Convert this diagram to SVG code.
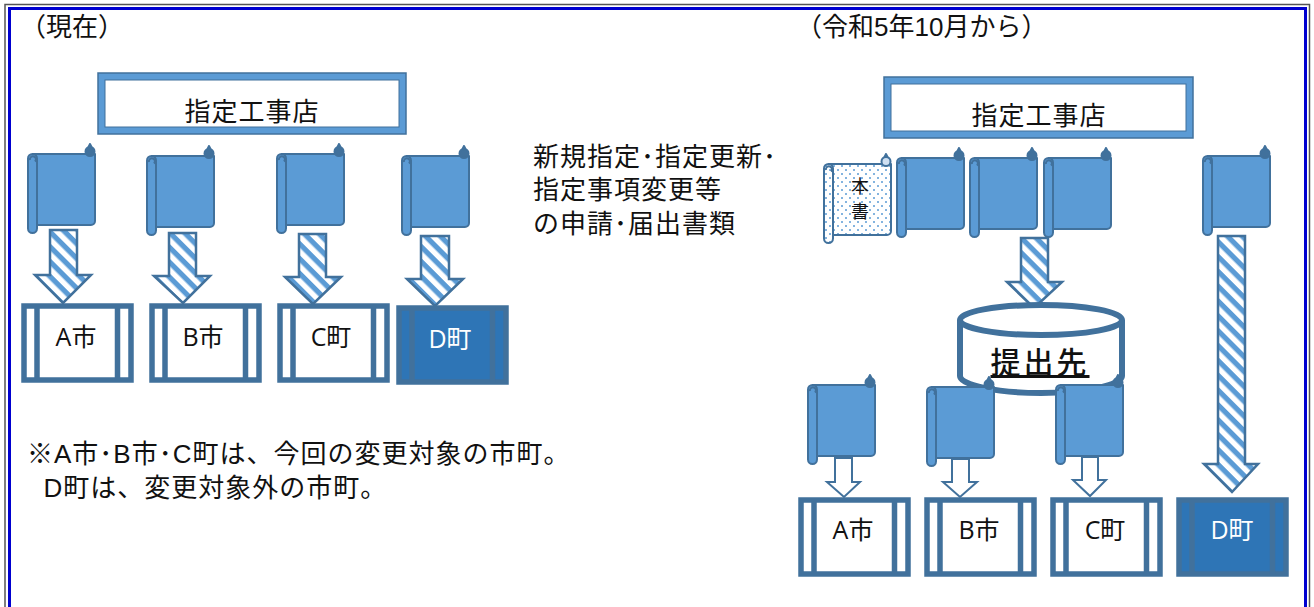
<svg xmlns="http://www.w3.org/2000/svg" width="1314" height="607" viewBox="0 0 1314 607">
<style>
text{font-family:"Liberation Sans","Noto Sans CJK JP",sans-serif;fill:#111}
.t{font-size:26px;letter-spacing:1px}
.n{font-family:"Open Sans","Noto Sans CJK JP",sans-serif;font-size:25px;text-anchor:middle}
.h{font-family:"Noto Sans CJK JP",sans-serif;font-size:26px;letter-spacing:1px;text-anchor:middle}
.box{fill:#5b9bd5;stroke:#41719c;stroke-width:1.5}
.inner{fill:#fff;stroke:#41719c;stroke-width:1}
.c{fill:#fff;stroke:#41719c;stroke-width:5.5}
.s{fill:#5b9bd5;stroke:#41719c;stroke-width:2;stroke-linejoin:round;--k:#41719c}
.d{fill:url(#dots);--k:#cfe0f2}
.a{fill:url(#stripes);stroke:#41719c;stroke-width:2.5;stroke-linejoin:miter}
.w{fill:#fff;stroke:#41719c;stroke-width:2}
.frame{fill:none}
</style>
<defs>
<pattern id="stripes" patternUnits="userSpaceOnUse" width="10.5" height="10.5" patternTransform="rotate(45)"><rect width="10.5" height="10.5" fill="#fff"/><rect width="10.5" height="5.2" fill="#5b9bd5"/></pattern>
<pattern id="dots" patternUnits="userSpaceOnUse" width="8" height="8"><rect width="8" height="8" fill="#fff"/><circle cx="2" cy="2" r="1" fill="#5b9bd5"/><circle cx="6" cy="6" r="1" fill="#5b9bd5"/></pattern>
<g id="scroll">
<path d="M5 0H67V67a4 4 0 0 1-4 4H9V8z"/>
<rect x="0" y="0" width="9" height="79" rx="4.500"/>
<path d="M2 6a3 3 0 1 1 5 1.500" fill="none"/>
<path d="M62 -10L60 -6H64Z"/>
<circle cx="62" cy="-2.500" r="4.500" style="fill:var(--k)"/>
</g>
<g id="city">
<rect x="3" y="3" width="107" height="74"/>
<path d="M16 3V77M96.500 3V77" fill="none"/>
</g>
</defs>
<rect width="1314" height="607" fill="#fff"/>
<g id="frame" class="frame">
<rect x="5" y="4.500" width="1304.500" height="610" stroke="#555" stroke-width="1.500"/>
<rect x="9.500" y="8.500" width="1296" height="610" stroke="#0000d0" stroke-width="3"/>
</g>
<g id="connectors">
<path class="a" d="M50 230H77V275H91L63 303L35 275H50Z"/>
<path class="a" d="M169 233H196V276H210L183 303L154 276H169Z"/>
<path class="a" d="M299 234H326V277H341L313 304L285 277H299Z"/>
<path class="a" d="M421 236H449V279H463L435 306L407 279H421Z"/>
<path class="a" d="M1021 238H1048V282H1062L1034 308L1007 282H1021Z"/>
<path class="a" d="M1218 236H1245V464H1258L1232 492L1204 464H1218Z"/>
<path class="w" d="M835 458H852V482H860L844 497L827 482H835Z"/>
<path class="w" d="M952 459H969V482H977L960 497L943 482H952Z"/>
<path class="w" d="M1082 457H1098V480H1106L1090 496L1073 480H1082Z"/>
</g>
<g id="label-current"><text x="20" y="36" font-size="26" style="font-family:'Noto Sans CJK JP',sans-serif">（現在）</text></g>
<g id="label-future"><text x="796" y="36" font-size="26">（令和5年10月から）</text></g>
<g id="contractor-left"><rect class="box" x="98" y="73" width="308" height="61"/><rect class="inner" x="105" y="80" width="294" height="47"/><text class="h" x="252" y="121">指定工事店</text></g>
<g id="contractor-right"><rect class="box" x="884" y="77" width="309" height="61"/><rect class="inner" x="891" y="84" width="295" height="47"/><text class="h" x="1039" y="125">指定工事店</text></g>
<g id="scroll-l1"><use href="#scroll" class="s" x="28" y="154"/></g>
<g id="scroll-l2"><use href="#scroll" class="s" x="147" y="156"/></g>
<g id="scroll-l3"><use href="#scroll" class="s" x="277" y="154"/></g>
<g id="scroll-l4"><use href="#scroll" class="s" x="402" y="156"/></g>
<g id="scroll-original"><use href="#scroll" class="s d" x="824" y="164"/><text x="860" y="193" font-size="18" text-anchor="middle">本</text><text x="860" y="218" font-size="18" text-anchor="middle">書</text></g>
<g id="scroll-r1"><use href="#scroll" class="s" x="897" y="158"/></g>
<g id="scroll-r2"><use href="#scroll" class="s" x="970" y="158"/></g>
<g id="scroll-r3"><use href="#scroll" class="s" x="1044" y="158"/></g>
<g id="scroll-r4"><use href="#scroll" class="s" x="1203" y="156"/></g>
<g id="city-a-left"><use href="#city" class="c" x="21" y="303"/><text class="n" x="76" y="346">A市</text></g>
<g id="city-b-left"><use href="#city" class="c" x="149" y="303"/><text class="n" x="203" y="346">B市</text></g>
<g id="city-c-left"><use href="#city" class="c" x="277" y="303"/><text class="n" x="331" y="346">C町</text></g>
<g id="city-d-left"><use href="#city" class="c" x="396" y="305" style="fill:#2e75b6"/><text class="n" x="450" y="348" style="fill:#fff">D町</text></g>
<g id="submission"><path d="M960 320V376C960 385 997 393 1041 393S1122 385 1122 376V320" fill="#fff" stroke="#41719c" stroke-width="6"/><ellipse cx="1041" cy="320" rx="81" ry="15" fill="#fff" stroke="#41719c" stroke-width="6"/><text x="1040" y="373" font-size="30" font-weight="500" text-anchor="middle" text-decoration="underline" style="font-family:'Noto Sans CJK JP',sans-serif;letter-spacing:3px">提出先</text></g>
<g id="scroll-b1"><use href="#scroll" class="s" x="808" y="385"/></g>
<g id="scroll-b2"><use href="#scroll" class="s" x="927" y="387"/></g>
<g id="scroll-b3"><use href="#scroll" class="s" x="1056" y="385"/></g>
<g id="city-a-right"><use href="#city" class="c" x="798" y="497"/><text class="n" x="853" y="539">A市</text></g>
<g id="city-b-right"><use href="#city" class="c" x="924" y="497"/><text class="n" x="979" y="539">B市</text></g>
<g id="city-c-right"><use href="#city" class="c" x="1050" y="497"/><text class="n" x="1105" y="539">C町</text></g>
<g id="city-d-right"><use href="#city" class="c" x="1176" y="497" style="fill:#2e75b6"/><text class="n" x="1232" y="539" style="fill:#fff">D町</text></g>
<g id="caption">
<text class="t" x="533" y="166">新規指定･指定更新･</text>
<text class="t" x="533" y="199">指定事項変更等</text>
<text class="t" x="533" y="233">の申請･届出書類</text>
</g>
<g id="note">
<text class="t" x="27" y="463">※A市･B市･C町は、今回の変更対象の市町。</text>
<text class="t" x="27" y="497" xml:space="preserve">  D町は、変更対象外の市町。</text>
</g>
</svg>
